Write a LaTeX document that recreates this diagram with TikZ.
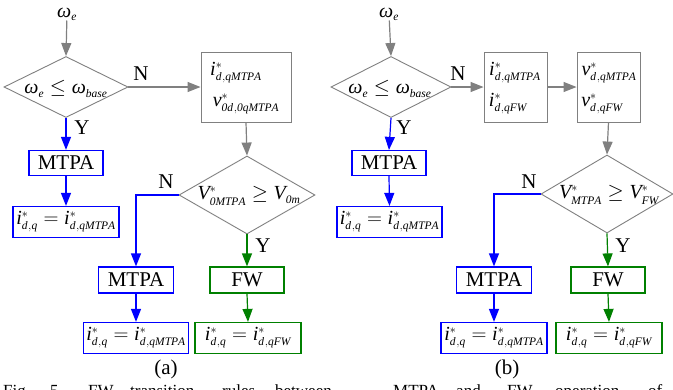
\documentclass[tikz,border=0pt]{standalone}
\usepackage{fontspec}
\setmainfont{Liberation Serif}
\usetikzlibrary{arrows.meta,shapes.geometric}
\DeclareMathSizes{20}{20}{11.5}{9}
\DeclareMathSizes{21}{21}{12}{9}
\definecolor{fgray}{RGB}{128,128,128}
\definecolor{fblue}{RGB}{0,0,255}
\definecolor{fgreen}{RGB}{0,128,0}
\newcommand{\wE}{\mbox{\itshape ω}}
\newcommand{\mi}[1]{\mathit{#1}}
\newcommand{\cm}{\mkern1mu,}
\begin{document}
\begin{tikzpicture}[x=1pt,y=-1pt,
  every node/.style={font=\fontsize{20}{24}\selectfont, inner sep=0pt},
  arr/.style={-{Triangle[length=13pt,width=10pt]}, line width=1.2pt},
  garr/.style={arr, draw=fgray},
  barr/.style={arr, draw=fblue},
  greenarr/.style={arr, draw=fgreen},
  gbox/.style={draw=fgray, line width=0.9pt},
  bbox/.style={draw=fblue, line width=1.2pt},
  grbox/.style={draw=fgreen, line width=1.2pt},
  dia/.style={diamond, draw=fgray, line width=0.9pt},
  lbl/.style={font=\fontsize{21}{24}\selectfont},
  word/.style={anchor=base west, font=\fontsize{17}{20}\selectfont}
]
\useasboundingbox (0,0) rectangle (673,389);
\fill[white] (0,0) rectangle (673,389);

% ---------------- panel (a) ----------------
\node (aw) at (67,14) {$\wE_{\mi{e}}$};
\node[dia, minimum width=124pt, minimum height=61pt] (ad1) at (66,87) {};
\node at (66,89) {$\wE_{\mi{e}}\le\wE_{\mi{base}}$};
\node[gbox, minimum width=90pt, minimum height=70pt] (ab1) at (246,87) {};
\node (ab1t) at (236,73) {$\mi{i}^{*}_{\mi{d\cm qMTPA}}$};
\node (ab1b) at (246,104) {$\mi{v}^{*}_{\mi{0d\cm 0qMTPA}}$};
\node[bbox, minimum width=74pt, minimum height=25pt, font=\fontsize{21}{24}\selectfont] (am1) at (66,163) {MTPA};
\node[bbox, minimum width=106pt, minimum height=31pt] (ar1) at (66,222) {$\mi{i}^{*}_{\mi{d\cm q}}=\mi{i}^{*}_{\mi{d\cm qMTPA}}$};
\node[dia, minimum width=136pt, minimum height=78pt] (ad2) at (247,195) {};
\node at (249,196) {$\mi{V}^{*}_{\mi{0MTPA}}\ge\mi{V}_{\mi{0m}}$};
\node[bbox, minimum width=75pt, minimum height=26pt, font=\fontsize{21}{24}\selectfont] (am2) at (136,280) {MTPA};
\node[grbox, minimum width=74pt, minimum height=26pt, font=\fontsize{21}{24}\selectfont] (af2) at (247,280) {FW};
\node[bbox, minimum width=105pt, minimum height=31pt] (ar2) at (136,338) {$\mi{i}^{*}_{\mi{d\cm q}}=\mi{i}^{*}_{\mi{d\cm qMTPA}}$};
\node[grbox, minimum width=106pt, minimum height=31pt] (ar3) at (248,338) {$\mi{i}^{*}_{\mi{d\cm q}}=\mi{i}^{*}_{\mi{d\cm qFW}}$};
\coordinate (ac) at (136,195);
\node[lbl] at (141,74) {N};
\node[lbl] at (82,128) {Y};
\node[lbl] at (166,182) {N};
\node[lbl] at (263,246) {Y};
\node[lbl] at (166,369) {(a)};

\draw[garr] (aw) -- (ad1.north);
\draw[garr] (ad1.east) -- (ab1.west);
\draw[garr] (ab1.south) -- (ad2.north);
\draw[barr] (ad1.south) -- (am1.north);
\draw[barr] (am1.south) -- (ar1.north);
\draw[barr] (ad2.west) -- (ac) -- (am2.north);
\draw[greenarr] (ad2.south) -- (af2.north);
\draw[barr] (am2.south) -- (ar2.north);
\draw[greenarr] (af2.south) -- (ar3.north);

% ---------------- panel (b) ----------------
\node (bw) at (389,14) {$\wE_{\mi{e}}$};
\node[dia, minimum width=120pt, minimum height=61pt] (bd1) at (391,87) {};
\node at (390,89) {$\wE_{\mi{e}}\le\wE_{\mi{base}}$};
\node[gbox, minimum width=63pt, minimum height=70pt] (bb1) at (515.5,87) {};
\node (bb1t) at (515,73) {$\mi{i}^{*}_{\mi{d\cm qMTPA}}$};
\node (bb1b) at (508,104) {$\mi{i}^{*}_{\mi{d\cm qFW}}$};
\node[gbox, minimum width=63pt, minimum height=70pt] (bb2) at (608.5,87) {};
\node (bb2t) at (609,73) {$\mi{v}^{*}_{\mi{d\cm qMTPA}}$};
\node (bb2b) at (602,104) {$\mi{v}^{*}_{\mi{d\cm qFW}}$};
\node[bbox, minimum width=74pt, minimum height=25pt, font=\fontsize{21}{24}\selectfont] (bm1) at (389,163) {MTPA};
\node[bbox, minimum width=105pt, minimum height=31pt] (br1) at (389.5,222) {$\mi{i}^{*}_{\mi{d\cm q}}=\mi{i}^{*}_{\mi{d\cm qMTPA}}$};
\node[dia, minimum width=132pt, minimum height=78pt] (bd2) at (607,194) {};
\node at (609,195) {$\mi{V}^{*}_{\mi{MTPA}}\ge\mi{V}^{*}_{\mi{FW}}$};
\node[bbox, minimum width=75pt, minimum height=26pt, font=\fontsize{21}{24}\selectfont] (bm2) at (494,280) {MTPA};
\node[grbox, minimum width=74pt, minimum height=26pt, font=\fontsize{21}{24}\selectfont] (bf2) at (608,280) {FW};
\node[bbox, minimum width=106pt, minimum height=31pt] (br2) at (494,338) {$\mi{i}^{*}_{\mi{d\cm q}}=\mi{i}^{*}_{\mi{d\cm qMTPA}}$};
\node[grbox, minimum width=106pt, minimum height=31pt] (br3) at (609,338) {$\mi{i}^{*}_{\mi{d\cm q}}=\mi{i}^{*}_{\mi{d\cm qFW}}$};
\coordinate (bc) at (494,194);
\node[lbl] at (458,74) {N};
\node[lbl] at (404,128) {Y};
\node[lbl] at (529,182) {N};
\node[lbl] at (623,246) {Y};
\node[lbl] at (507,369) {(b)};

\draw[garr] (bw) -- (bd1.north);
\draw[garr] (bd1.east) -- (bb1.west);
\draw[garr] (bb1.east) -- (bb2.west);
\draw[garr] (bb2.south) -- (bd2.north);
\draw[barr] (bd1.south) -- (bm1.north);
\draw[barr] (bm1.south) -- (br1.north);
\draw[barr] (bd2.west) -- (bc) -- (bm2.north);
\draw[greenarr] (bd2.south) -- (bf2.north);
\draw[barr] (bm2.south) -- (br2.north);
\draw[greenarr] (bf2.south) -- (br3.north);

% caption line, cut off by the lower edge as in the reference
\begin{scope}
\clip (0,0) rectangle (673,389);
\node[word] (c1) at (3,396) {Fig.};
\node[word] (c2) at (50,396) {5.};
\node[word] (c3) at (88,396) {FW};
\node[word] (c4) at (130,396) {transition};
\node[word] (c5) at (222,396) {rules};
\node[word] (c6) at (275,396) {between};
\node[word] (c7) at (393,396) {MTPA};
\node[word] (c8) at (456,396) {and};
\node[word] (c9) at (507,396) {FW};
\node[word] (c10) at (555,396) {operation};
\node[word] (c11) at (648,396) {of};
\end{scope}
\end{tikzpicture}
\end{document}
